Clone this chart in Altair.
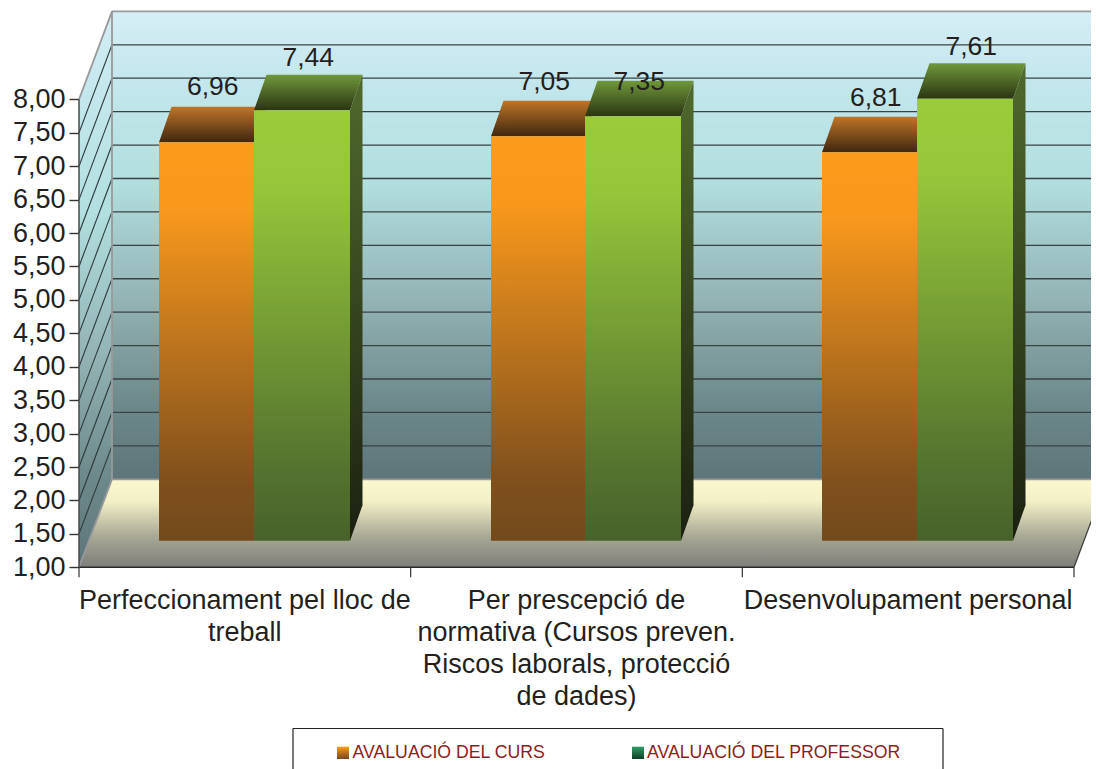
import altair as alt
import pandas as pd

# ---- chart values ----
categories = ["Perfeccionament pel lloc de|treball",
              "Per prescepció de|normativa (Cursos preven.|Riscos laborals, protecció|de dades)",
              "Desenvolupament personal"]
series = ["AVALUACIÓ DEL CURS", "AVALUACIÓ DEL PROFESSOR"]
curs = [6.96, 7.05, 6.81]
professor = [7.44, 7.35, 7.61]
y_ticks = [1, 1.5, 2, 2.5, 3, 3.5, 4, 4.5, 5, 5.5, 6, 6.5, 7, 7.5, 8]

# ---- geometry of the pseudo-3D box (page pixels for x; value units for y) ----
PX = 66.85            # pixels per value unit
Y1_PAGE = 567.3       # page y of value 1
WALL_DX = 33
WALL_DV = 88 / PX
BAR_BASE = 26.6 / PX  # bar front stands this far in from the front edge
BAR_DX = 12.5
BAR_DV = 35.5 / PX
X0, X1 = 79, 1074
cat_w = (X1 - X0) / 3
bar_left = [159, 491, 822]
bar_mid = [254, 585, 917]
bar_right = [350, 681, 1013]
label_rise_px = [12, 11, 11, 9, -9, 8]  # baseline of each value label above its bar's back top edge
FONT = "Liberation Sans"
INK = "#231F20"

xs = alt.Scale(domain=[X0, 1091], nice=False, zero=False)
ys = alt.Scale(domain=[1 - (769 - Y1_PAGE) / PX, 1 + (Y1_PAGE - 8) / PX], nice=False, zero=False)
page = lambda py: 1 + (Y1_PAGE - py) / PX

y_axis = alt.Axis(
    values=y_ticks, domain=False, grid=False, tickSize=10, tickColor="#333333", tickWidth=1.4,
    labelExpr="replace(format(datum.value,'.2f'),'.',',')", labelFont=FONT, labelFontSize=27,
    labelColor=INK, labelPadding=4, title=None)


def grad(*stops):
    return alt.Gradient(gradient="linear", x1=0, y1=0, x2=0, y2=1,
                        stops=[alt.GradientStop(offset=o, color=c) for o, c in stops])


def X(f="x"):
    return alt.X(f"{f}:Q", scale=xs, axis=None)


def Y(f="y"):
    return alt.Y(f"{f}:Q", scale=ys, axis=y_axis)


def hband(x0, x1, vbottom, vtop, shift, fill):
    """Flat surface: horizontal edges, top edge shifted right by `shift`."""
    d = pd.DataFrame({"y": [vbottom, vtop], "a": [x0, x0 + shift], "b": [x1, x1 + shift]})
    return alt.Chart(d).mark_area(orient="horizontal", fill=fill).encode(
        y=Y(), x=X("a"), x2="b:Q")


def vband(x0, x1, v0_low, v0_high, dv, fill):
    """Side surface: vertical edges, right edge raised by dv."""
    d = pd.DataFrame({"x": [x0, x1], "lo": [v0_low, v0_low + dv], "hi": [v0_high, v0_high + dv]})
    return alt.Chart(d).mark_area(orient="vertical", fill=fill).encode(
        x=X(), y=Y("lo"), y2="hi:Q")


def box(x0, x1, v0, v1, fill):
    d = pd.DataFrame({"a": [x0], "b": [x1], "lo": [v0], "hi": [v1]})
    return alt.Chart(d).mark_bar(fill=fill).encode(x=X("a"), x2="b:Q", y=Y("lo"), y2="hi:Q")


def seg(rows, color, width=1.3):
    d = pd.DataFrame(rows, columns=["a", "b", "c", "d"])
    return alt.Chart(d).mark_rule(color=color, strokeWidth=width).encode(
        x=X("a"), x2="b:Q", y=Y("c"), y2="d:Q")


WALL = [(0, "#D6EEF5"), (0.12, "#C6E8EE"), (0.36, "#B2DFDF"), (0.62, "#93B3B5"), (0.83, "#6E8A8C"), (1, "#5E7579")]
FLOOR = [(0, "#FBF8CF"), (0.25, "#F3F0C6"), (0.65, "#A8A895"), (1, "#7E7E7C")]
ORANGE = [(0, "#FC9A1B"), (0.17, "#F8981C"), (0.85, "#80501D"), (1, "#734A1C")]
GREEN = [(0, "#9ACB3A"), (0.17, "#96C73A"), (0.82, "#55742F"), (1, "#48622A")]
ORANGE_TOP = [(0, "#BF7529"), (1, "#3F270E")]
GREEN_TOP = [(0, "#70983B"), (1, "#2B3512")]
GREEN_SIDE = [(0, "#506A2D"), (1, "#1B2011")]

layers = []

# walls and floor
back_right = X1 + WALL_DX
layers.append(box(X0 + WALL_DX, back_right, page(479.3), page(11), grad(*WALL)))
layers.append(vband(X0, X0 + WALL_DX, 1, 8, WALL_DV, grad(*WALL)))
layers.append(hband(X0, X1, 1, 1 + WALL_DV, WALL_DX, grad(*FLOOR)))

# gridlines on back and side wall
grid_v = y_ticks[1:-1]
layers.append(seg([(X0 + WALL_DX, back_right, v + WALL_DV, v + WALL_DV) for v in grid_v], "#3A4244"))
layers.append(seg([(X0, X0 + WALL_DX, v, v + WALL_DV) for v in grid_v], "#2F3A3C", 1.1))

# frame edges
layers.append(seg([
    (X0 + WALL_DX, back_right, 8 + WALL_DV, 8 + WALL_DV),
    (X0 + WALL_DX, back_right, 1 + WALL_DV, 1 + WALL_DV),
    (X0 + WALL_DX, X0 + WALL_DX, 1 + WALL_DV, 8 + WALL_DV),
    (X0, X0 + WALL_DX, 8, 8 + WALL_DV),
    (X0, X0 + WALL_DX, 1, 1 + WALL_DV),
], "#98999B", 1.8))
layers.append(seg([(X1, X1 + WALL_DX, 1, 1 + WALL_DV)], "#3A3A3A", 1.2))

# bars
base = 1 + BAR_BASE
for i in range(3):
    layers.append(hband(bar_left[i], bar_mid[i], curs[i] + BAR_BASE, curs[i] + BAR_BASE + BAR_DV, BAR_DX, grad(*ORANGE_TOP)))
    layers.append(hband(bar_mid[i], bar_right[i], professor[i] + BAR_BASE, professor[i] + BAR_BASE + BAR_DV, BAR_DX, grad(*GREEN_TOP)))
    layers.append(vband(bar_right[i], bar_right[i] + BAR_DX, base, professor[i] + BAR_BASE, BAR_DV, grad(*GREEN_SIDE)))
    layers.append(box(bar_left[i], bar_mid[i], base, curs[i] + BAR_BASE, grad(*ORANGE)))
    layers.append(box(bar_mid[i], bar_right[i], base, professor[i] + BAR_BASE, grad(*GREEN)))

# value labels
fmt = lambda v: f"{v:.2f}".replace(".", ",")
lab = pd.DataFrame({
    "x": [(bar_left[i] + bar_mid[i]) / 2 + BAR_DX / 2 for i in range(3)]
         + [(bar_mid[i] + bar_right[i]) / 2 + BAR_DX / 2 for i in range(3)],
    "y": [v + BAR_BASE + BAR_DV + s / PX for v, s in zip(curs + professor, label_rise_px)],
    "t": [fmt(v) for v in curs + professor],
})
layers.append(alt.Chart(lab).mark_text(font=FONT, fontSize=26.5, color=INK, baseline="alphabetic").encode(
    x=X(), y=Y(), text="t:N"))

# x axis line, ticks and category labels
layers.append(seg([(X0, X1, 1, 1)], "#2A2A2A", 1.5))
layers.append(seg([(X0, X0, 1, 8)], "#4A4A4A", 1.5))
layers.append(seg([(X0 + k * cat_w, X0 + k * cat_w, 1, page(Y1_PAGE + 10)) for k in range(4)], "#333333", 1.2))
cat_df = pd.DataFrame({"x": [X0 + (k + 0.5) * cat_w for k in range(3)], "y": [page(609)] * 3, "t": categories})
layers.append(alt.Chart(cat_df).mark_text(font=FONT, fontSize=27, color=INK, baseline="alphabetic",
                                         lineBreak="|", lineHeight=32).encode(x=X(), y=Y(), text="t:N"))

# legend
layers.append(seg([(293, 943, page(728.5), page(728.5)),
                   (293, 293, page(728.5), page(769)),
                   (943, 943, page(728.5), page(769))], "#222222", 1.2))
layers.append(box(337, 349, page(759), page(746.7), grad((0, "#FC9A1B"), (1, "#734A1C"))))
layers.append(box(632, 644, page(759), page(746.7), grad((0, "#2F9E68"), (1, "#123D26"))))
leg_df = pd.DataFrame({"x": [352.5, 647], "y": [page(758)] * 2, "t": series})
layers.append(alt.Chart(leg_df).mark_text(font=FONT, fontSize=17.7, color="#8C1D20", align="left",
                                         baseline="alphabetic").encode(x=X(), y=Y(), text="t:N"))

chart = alt.layer(*layers).properties(
    width=1012, height=761,
    autosize=alt.AutoSizeParams(type="none"),
    padding={"left": 71, "top": 0, "right": 0, "bottom": 0},
).configure_view(stroke=None)

chart.save("out.html", embed_options={"renderer": "svg", "actions": False})
